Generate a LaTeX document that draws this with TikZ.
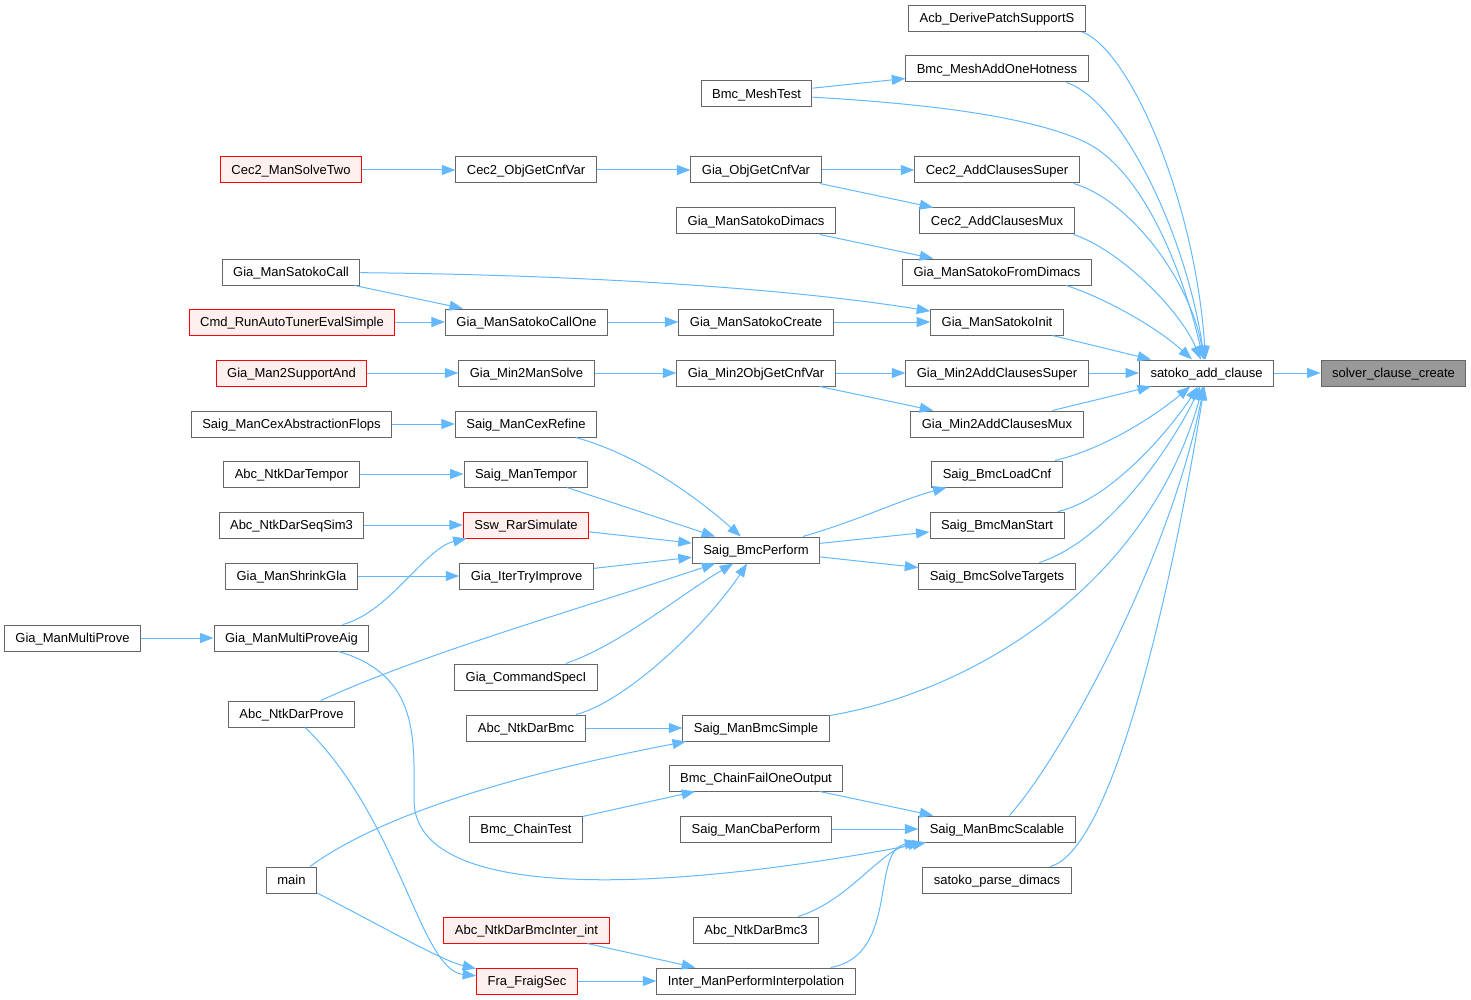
\documentclass[tikz,border=0pt]{standalone}
\usepackage{fontspec}
\setmainfont{Liberation Sans}
\usetikzlibrary{arrows.meta}
\definecolor{edgeblue}{HTML}{63B8FF}
\definecolor{boxgray}{HTML}{666666}
\definecolor{hotred}{HTML}{FF0000}
\definecolor{hotfill}{HTML}{FFF0F0}
\definecolor{curfill}{HTML}{999999}

\begin{document}
\begin{tikzpicture}[x=1pt,y=-1pt,
  every node/.style={inner sep=0pt},
  fn/.style={draw=boxgray,fill=white,line width=1pt,minimum height=26pt,
    inner xsep=11pt,text height=10pt,text depth=1.5pt,
    font=\fontsize{13}{15}\selectfont},
  hot/.style={fn,draw=hotred,fill=hotfill},
  cur/.style={fn,fill=curfill},
  call/.style={->,draw=edgeblue,line width=1pt},
  >={Triangle[length=13.5pt,width=10pt]}]
\useasboundingbox (0,0) rectangle (1471,1000);
% rank 6 and 5
\node[cur] (scc) at (1393.5,373) {solver\_clause\_create};
\node[fn] (sat) at (1206.5,373) {satoko\_add\_clause};
% rank 4
\node[fn] (acb) at (997,18.5) {Acb\_DerivePatchSupportS};
\node[fn] (bmh) at (997,69) {Bmc\_MeshAddOneHotness};
\node[fn] (c2s) at (997,170) {Cec2\_AddClausesSuper};
\node[fn] (c2m) at (997,221) {Cec2\_AddClausesMux};
\node[fn] (gsfd) at (997,272) {Gia\_ManSatokoFromDimacs};
\node[fn] (gsi) at (997,322) {Gia\_ManSatokoInit};
\node[fn] (m2s) at (997,373) {Gia\_Min2AddClausesSuper};
\node[fn] (m2m) at (997,424) {Gia\_Min2AddClausesMux};
\node[fn] (blc) at (997,474) {Saig\_BmcLoadCnf};
\node[fn] (bms) at (997,525) {Saig\_BmcManStart};
\node[fn] (bst) at (997,576) {Saig\_BmcSolveTargets};
\node[fn] (bsc) at (997,829) {Saig\_ManBmcScalable};
\node[fn] (spd) at (997,880) {satoko\_parse\_dimacs};
% rank 3
\node[fn] (bmt) at (756.5,94) {Bmc\_MeshTest};
\node[fn] (gocv) at (756,170) {Gia\_ObjGetCnfVar};
\node[fn] (gsd) at (756,221) {Gia\_ManSatokoDimacs};
\node[fn] (gscr) at (756,322) {Gia\_ManSatokoCreate};
\node[fn] (m2o) at (756,373) {Gia\_Min2ObjGetCnfVar};
\node[fn] (bp) at (756,550) {Saig\_BmcPerform};
\node[fn] (bsi) at (756,728) {Saig\_ManBmcSimple};
\node[fn] (cfo) at (756,778) {Bmc\_ChainFailOneOutput};
\node[fn] (cba) at (756,829) {Saig\_ManCbaPerform};
\node[fn] (nb3) at (756,930) {Abc\_NtkDarBmc3};
\node[fn] (ipi) at (756,981) {Inter\_ManPerformInterpolation};
% rank 2
\node[fn] (c2o) at (526,170) {Cec2\_ObjGetCnfVar};
\node[fn] (gsco) at (526.5,322) {Gia\_ManSatokoCallOne};
\node[fn] (m2ms) at (526.5,373) {Gia\_Min2ManSolve};
\node[fn] (cxr) at (526,424) {Saig\_ManCexRefine};
\node[fn] (tmp) at (526,474) {Saig\_ManTempor};
\node[hot] (rar) at (526,525) {Ssw\_RarSimulate};
\node[fn] (iti) at (526.5,576) {Gia\_IterTryImprove};
\node[fn] (csi) at (526,677) {Gia\_CommandSpecI};
\node[fn] (nbm) at (526,728) {Abc\_NtkDarBmc};
\node[fn] (cht) at (526,829) {Bmc\_ChainTest};
\node[hot] (bii) at (526.5,930) {Abc\_NtkDarBmcInter\_int};
\node[hot] (ffs) at (527,981) {Fra\_FraigSec};
% rank 1
\node[hot] (st2) at (291,170) {Cec2\_ManSolveTwo};
\node[fn] (gsc) at (291,272) {Gia\_ManSatokoCall};
\node[hot] (rat) at (292,322) {Cmd\_RunAutoTunerEvalSimple};
\node[hot] (m2a) at (291.5,373) {Gia\_Man2SupportAnd};
\node[fn] (caf) at (291.5,424) {Saig\_ManCexAbstractionFlops};
\node[fn] (ndt) at (291.5,474) {Abc\_NtkDarTempor};
\node[fn] (nds) at (291.5,525) {Abc\_NtkDarSeqSim3};
\node[fn] (sgl) at (291.5,576) {Gia\_ManShrinkGla};
\node[fn] (mpa) at (291.5,638) {Gia\_ManMultiProveAig};
\node[fn] (ndp) at (291.5,714) {Abc\_NtkDarProve};
\node[fn] (main) at (291.5,880) {main};
% rank 0
\node[fn] (mpv) at (72.5,638) {Gia\_ManMultiProve};

% into solver_clause_create and satoko_add_clause
\draw[call] (sat)--(scc);
\draw[call] (acb.-9.5) .. controls (1130,50) and (1195,200) .. (sat);
\draw[call] (bmh.-11) .. controls (1120,100) and (1185,230) .. (sat);
\draw[call] (bmt) .. controls (950,105) and (1040,120) .. (1087,143)
  .. controls (1140,170) and (1180,260) .. (sat);
\draw[call] (c2s.-10) .. controls (1130,200) and (1190,280) .. (sat);
\draw[call] (c2m.-10.5) .. controls (1120,250) and (1180,310) .. (sat);
\draw[call] (gsfd.-11.3) .. controls (1110,300) and (1160,330) .. (sat);
\draw[call] (gsi)--(sat);
\draw[call] (m2s)--(sat);
\draw[call] (m2m)--(sat);
\draw[call] (blc) .. controls (1100,450) and (1150,420) .. (sat);
\draw[call] (bms) .. controls (1110,500) and (1170,430) .. (sat);
\draw[call] (bst) .. controls (1110,540) and (1175,440) .. (sat);
\draw[call] (bsi) .. controls (980,690) and (1150,580) .. (sat);
\draw[call] (bsc) .. controls (1060,760) and (1170,560) .. (sat);
\draw[call] (spd) .. controls (1115,850) and (1175,570) .. (sat);
% top rows
\draw[call] (bmt)--(bmh);
\draw[call] (gocv)--(c2s);
\draw[call] (gocv)--(c2m);
\draw[call] (c2o)--(gocv);
\draw[call] (st2)--(c2o);
\draw[call] (gsd)--(gsfd);
\draw[call] (gsc) .. controls (600,275) and (800,290) .. (gsi);
\draw[call] (gsc)--(gsco);
\draw[call] (rat)--(gsco);
\draw[call] (gsco)--(gscr);
\draw[call] (gscr)--(gsi);
\draw[call] (m2a)--(m2ms);
\draw[call] (m2ms)--(m2o);
\draw[call] (m2o)--(m2s);
\draw[call] (m2o)--(m2m);
% Saig_BmcPerform and its callers
\draw[call] (caf)--(cxr);
\draw[call] (ndt)--(tmp);
\draw[call] (nds)--(rar);
\draw[call] (sgl)--(iti);
\draw[call] (mpv)--(mpa);
\draw[call] (mpa) .. controls (390,612) and (425,548) .. (rar);
\draw[call] (cxr) .. controls (640,455) and (700,500) .. (bp);
\draw[call] (tmp)--(bp);
\draw[call] (rar)--(bp);
\draw[call] (iti)--(bp);
\draw[call] (ndp) .. controls (420,655) and (560,615) .. (bp);
\draw[call] (csi) .. controls (620,645) and (680,595) .. (bp);
\draw[call] (nbm) .. controls (630,700) and (710,620) .. (bp);
\draw[call] (bp) .. controls (860,520) and (900,500) .. (blc);
\draw[call] (bp)--(bms);
\draw[call] (bp)--(bst);
% lower rows
\draw[call] (nbm)--(bsi);
\draw[call] (main) .. controls (360,830) and (460,785) .. (bsi);
\draw[call] (mpa) .. controls (420,675) and (414,740) .. (414,800)
  .. controls (414,900) and (650,895) .. (bsc);
\draw[call] (cfo)--(bsc);
\draw[call] (cht)--(cfo);
\draw[call] (cba)--(bsc);
\draw[call] (nb3) .. controls (850,900) and (880,850) .. (bsc);
\draw[call] (ipi) .. controls (900,955) and (870,850) .. (bsc);
\draw[call] (bii)--(ipi);
\draw[call] (ffs)--(ipi);
\draw[call] (ndp) .. controls (400,820) and (420,970) .. (ffs);
\draw[call] (main) .. controls (380,925) and (440,960) .. (ffs);
\end{tikzpicture}
\end{document}
